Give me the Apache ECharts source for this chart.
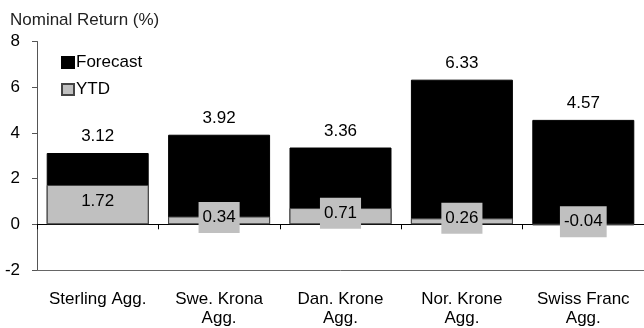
<!DOCTYPE html>
<html>
<head>
<meta charset="utf-8">
<script src="https://cdn.jsdelivr.net/npm/echarts@6/dist/echarts.min.js"></script>
<style>
  html, body { margin: 0; padding: 0; background: #fff; }
  #chart { width: 644px; height: 328px; }
</style>
</head>
<body>
<div id="chart"></div>
<script>
// Aggregate index returns: full-year forecast vs year-to-date
const categories = ['Sterling Agg.', 'Swe. Krona\nAgg.', 'Dan. Krone\nAgg.', 'Nor. Krone\nAgg.', 'Swiss Franc\nAgg.'];
const forecast = [3.12, 3.92, 3.36, 6.33, 4.57];
const ytd = [1.72, 0.34, 0.71, 0.26, -0.04];
const yTicks = { min: -2, max: 8, interval: 2 };

const FONT = 'Liberation Sans, Arial, sans-serif';
const chart = echarts.init(document.getElementById('chart'), null, { renderer: 'canvas' });

chart.setOption({
  animation: false,
  backgroundColor: '#fff',
  title: {
    text: 'Nominal Return (%)',
    left: 10,
    top: 12,
    padding: 0,
    textStyle: { fontFamily: FONT, fontSize: 17, fontWeight: 'normal', color: '#222' }
  },
  legend: {
    orient: 'vertical',
    left: 61,
    top: 54,
    padding: 0,
    itemWidth: 12,
    itemHeight: 11,
    itemGap: 10,
    icon: 'rect',
    textStyle: { fontFamily: FONT, fontSize: 17, color: '#000', padding: [0, 0, 0, -3] },
    data: ['Forecast', 'YTD']
  },
  grid: { left: 37, right: -3, top: 41.5, bottom: 58, containLabel: false },
  xAxis: [
    {
      // bottom axis: carries the category names along the -2 line
      type: 'category',
      data: categories,
      position: 'bottom',
      axisLine: { onZero: false, lineStyle: { color: '#666', width: 1 } },
      axisTick: { show: false },
      axisLabel: { margin: 20, fontFamily: FONT, fontSize: 17, color: '#000', lineHeight: 19, interval: 0 }
    },
    {
      // zero line with category separator ticks
      type: 'category',
      data: categories,
      position: 'top',
      axisLine: { onZero: true, lineStyle: { color: '#000', width: 1 } },
      axisTick: { show: true, inside: true, length: 5, lineStyle: { color: '#000' } },
      axisLabel: { show: false }
    }
  ],
  yAxis: {
    type: 'value',
    min: yTicks.min,
    max: yTicks.max,
    interval: yTicks.interval,
    axisLine: { show: true, lineStyle: { color: '#555' } },
    axisTick: { show: true, length: 5, lineStyle: { color: '#555' } },
    splitLine: { show: false },
    axisLabel: { margin: 17, fontFamily: FONT, fontSize: 17, color: '#000' }
  },
  series: [
    {
      name: 'Forecast',
      type: 'bar',
      data: forecast,
      barWidth: '84%',
      itemStyle: { color: '#000', borderColor: '#000', borderWidth: 1 },
      label: {
        show: true,
        position: 'top',
        distance: 8,
        fontFamily: FONT,
        fontSize: 17,
        color: '#000',
        formatter: p => p.value.toFixed(2)
      }
    },
    {
      name: 'YTD',
      type: 'bar',
      data: ytd,
      barWidth: '84%',
      barGap: '-100%',
      itemStyle: { color: '#c0c0c0', borderColor: '#444', borderWidth: 1 },
      label: {
        show: true,
        position: 'inside',
        offset: [0, -3],
        fontFamily: FONT,
        fontSize: 17,
        color: '#000',
        backgroundColor: '#c0c0c0',
        padding: [6, 4],
        lineHeight: 19,
        formatter: p => p.value.toFixed(2)
      }
    }
  ]
});
</script>
</body>
</html>
